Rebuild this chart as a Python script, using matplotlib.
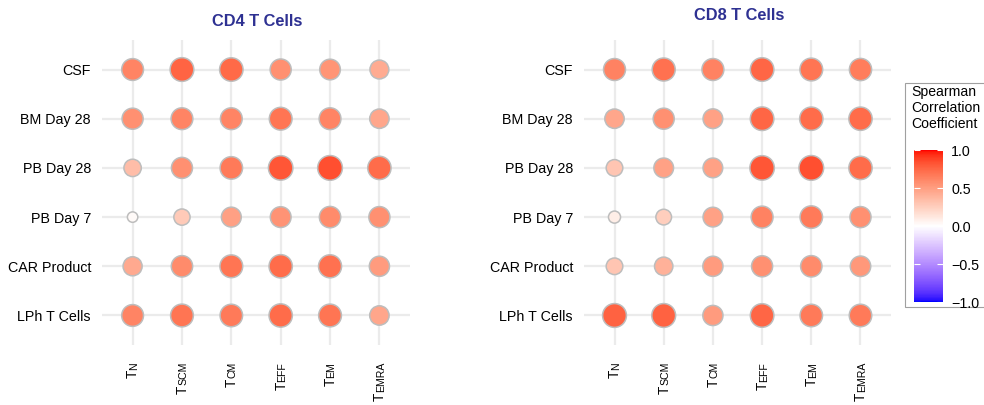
import numpy as np
import matplotlib.pyplot as plt
from matplotlib.colors import ListedColormap, Normalize
from matplotlib.patches import Rectangle
from matplotlib.transforms import ScaledTranslation

plt.rcParams['font.family'] = ['Liberation Sans', 'DejaVu Sans']

# rows listed top to bottom, columns left to right
samples = ['CSF', 'BM Day 28', 'PB Day 28', 'PB Day 7', 'CAR Product', 'LPh T Cells']
subsets = ['N', 'SCM', 'CM', 'EFF', 'EM', 'EMRA']

cd4_rho = [
    [0.62, 0.76, 0.74, 0.57, 0.54, 0.43],
    [0.57, 0.62, 0.62, 0.69, 0.62, 0.46],
    [0.34, 0.57, 0.67, 0.82, 0.84, 0.73],
    [0.03, 0.28, 0.49, 0.55, 0.59, 0.57],
    [0.44, 0.59, 0.69, 0.73, 0.71, 0.51],
    [0.62, 0.69, 0.67, 0.73, 0.69, 0.46],
]
cd8_rho = [
    [0.63, 0.71, 0.63, 0.75, 0.69, 0.65],
    [0.46, 0.57, 0.48, 0.75, 0.73, 0.73],
    [0.30, 0.48, 0.48, 0.82, 0.84, 0.73],
    [0.09, 0.25, 0.48, 0.63, 0.67, 0.57],
    [0.30, 0.40, 0.51, 0.57, 0.59, 0.53],
    [0.77, 0.77, 0.51, 0.75, 0.67, 0.67],
]

M = np.array([[0.4124, 0.3576, 0.1805],
              [0.2126, 0.7152, 0.0722],
              [0.0193, 0.1192, 0.9505]])
WHITE_PT = np.array([0.95047, 1.0, 1.08883])


def rgb_to_lab(rgb):
    rgb = np.asarray(rgb, float) / 255
    lin = np.where(rgb > 0.04045, ((rgb + 0.055) / 1.055) ** 2.4, rgb / 12.92)
    xyz = M @ lin / WHITE_PT
    f = np.where(xyz > 0.008856, np.cbrt(xyz), 7.787 * xyz + 16 / 116)
    return np.array([116 * f[1] - 16, 500 * (f[0] - f[1]), 200 * (f[1] - f[2])])


def lab_to_rgb(lab):
    L, a, b = lab
    fy = (L + 16) / 116
    f = np.array([fy + a / 500, fy, fy - b / 200])
    xyz = np.where(f ** 3 > 0.008856, f ** 3, (f - 16 / 116) / 7.787) * WHITE_PT
    lin = np.clip(np.linalg.inv(M) @ xyz, 0, 1)
    return np.where(lin > 0.0031308, 1.055 * lin ** (1 / 2.4) - 0.055, 12.92 * lin)


# blue - white - red gradient interpolated in Lab space
lab_blue = rgb_to_lab((0, 0, 255))
lab_white = rgb_to_lab((255, 255, 255))
lab_red = rgb_to_lab((255, 0, 0))
colors = []
for t in np.linspace(-1, 1, 256):
    end = lab_red if t >= 0 else lab_blue
    colors.append(np.clip(lab_to_rgb(lab_white + abs(t) * (end - lab_white)), 0, 1))
cmap = ListedColormap(colors)
norm = Normalize(-1, 1)


def subset_labels(ax, fig):
    # "T" followed by smaller capitals sitting on the same baseline
    renderer = fig.canvas.get_renderer()
    top = -17 / 305
    for i, suf in enumerate(subsets):
        shift = ScaledTranslation(3.3 / 72, 0, fig.dpi_scale_trans)
        t2 = ax.text(i, top, suf, rotation=90, rotation_mode='anchor', ha='right',
                     va='baseline', fontsize=7.6, transform=ax.get_xaxis_transform() + shift)
        length = t2.get_window_extent(renderer).height / fig.dpi
        shift2 = ScaledTranslation(3.3 / 72, -length, fig.dpi_scale_trans)
        ax.text(i, top, 'T', rotation=90, rotation_mode='anchor', ha='right',
                va='baseline', fontsize=9.8, transform=ax.get_xaxis_transform() + shift2)


def dot_panel(ax, rho):
    rho = np.array(rho)
    xs, ys = np.meshgrid(np.arange(len(subsets)), np.arange(len(samples))[::-1])
    area_px = 90 + 620 * np.abs(rho)
    ax.scatter(xs.ravel(), ys.ravel(), s=area_px.ravel() * (72 / 100) ** 2,
               c=rho.ravel(), cmap=cmap, norm=norm,
               edgecolors='#BDBDBD', linewidths=1.1, zorder=3)
    ax.set_xlim(-0.62, 5.62)
    ax.set_ylim(-0.6, 5.6)
    ax.set_xticks(range(len(subsets)))
    ax.set_xticklabels([])
    ax.set_yticks(range(len(samples)))
    ax.set_yticklabels(samples[::-1], fontsize=10.3)
    ax.tick_params(axis='x', length=0)
    ax.tick_params(axis='y', length=0, pad=8)
    ax.grid(True, color='#EBEBEB', linewidth=1.6)
    ax.set_axisbelow(True)
    for s in ax.spines.values():
        s.set_visible(False)


fig = plt.figure(figsize=(9.84, 4.05), dpi=100)
ax1 = fig.add_axes([102 / 984, 60 / 405, 308 / 984, 305 / 405])
ax2 = fig.add_axes([584 / 984, 60 / 405, 307 / 984, 305 / 405])
dot_panel(ax1, cd4_rho)
dot_panel(ax2, cd8_rho)
subset_labels(ax1, fig)
subset_labels(ax2, fig)

fig.text(257 / 984, 1 - 22 / 405, 'CD4 T Cells', ha='center', va='center',
         fontsize=11.8, fontweight='bold', color='#2E3192')
fig.text(739 / 984, 1 - 16 / 405, 'CD8 T Cells', ha='center', va='center',
         fontsize=11.8, fontweight='bold', color='#2E3192')

# legend box with colourbar
fig.patches.append(Rectangle((905 / 984, 1 - 307 / 405), 100 / 984, 224 / 405,
                             transform=fig.transFigure, facecolor='white',
                             edgecolor='#A0A0A0', linewidth=0.8, zorder=-1))
fig.text(911 / 984, 1 - 85 / 405, 'Spearman\nCorrelation\nCoefficient',
         ha='left', va='top', fontsize=10.1, linespacing=1.2)
cax = fig.add_axes([914 / 984, 1 - 302 / 405, 29 / 984, 152 / 405])
sm = plt.cm.ScalarMappable(norm=norm, cmap=cmap)
cb = fig.colorbar(sm, cax=cax, ticks=[-1, -0.5, 0, 0.5, 1])
cb.ax.set_yticklabels(['\u22121.0', '\u22120.5', '0.0', '0.5', '1.0'])
cb.outline.set_visible(False)
cb.ax.tick_params(length=4, width=0.8, color='white', direction='in', left=True,
                  labelsize=10.3, pad=6)

fig.savefig('out.png', dpi=100)
